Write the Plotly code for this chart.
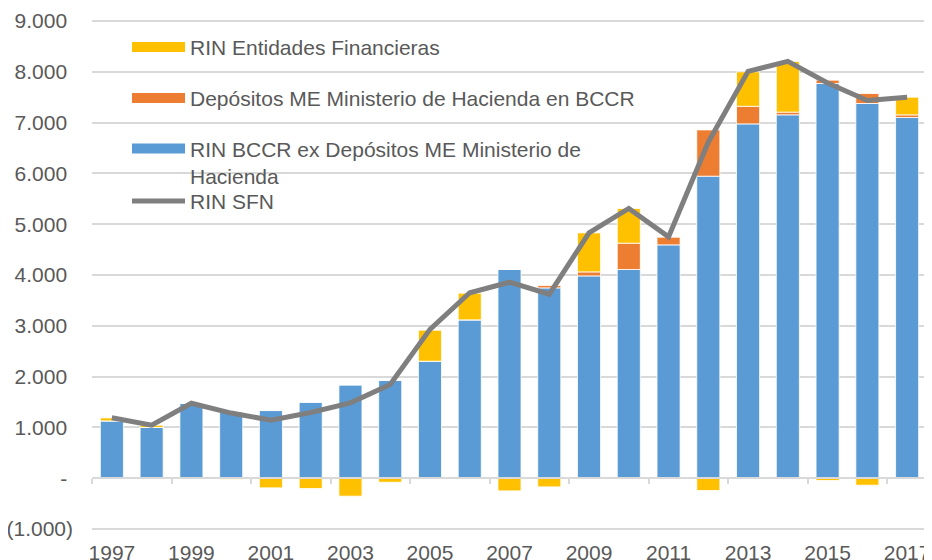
import plotly.graph_objects as go

years = list(range(1997, 2018))
rin_bccr_ex = [1128, 998, 1476, 1305, 1332, 1496, 1837, 1923, 2303, 3117, 4108,
               3746, 3982, 4108, 4593, 5945, 6974, 7153, 7769, 7376, 7100]
depositos_me = [0, 0, 0, 0, 0, 0, 0, 0, 0, 0, 0,
                47, 79, 518, 157, 911, 347, 53, 66, 196, 52]
rin_entidades = [59, 45, 0, -25, -190, -203, -354, -80, 610, 525, -250,
                 -171, 768, 683, 0, -242, 679, 997, -45, -138, 348]
rin_sfn = [1190, 1045, 1476, 1282, 1142, 1293, 1483, 1843, 2930, 3650, 3858,
           3622, 4829, 5310, 4750, 6614, 8010, 8205, 7780, 7434, 7500]

NBSP = "\u00a0"
y_tickvals = [-1000, 0, 1000, 2000, 3000, 4000, 5000, 6000, 7000, 8000, 9000]
y_ticktext = ["(1.000)", "-" + NBSP, "1.000" + NBSP, "2.000" + NBSP, "3.000" + NBSP,
              "4.000" + NBSP, "5.000" + NBSP, "6.000" + NBSP, "7.000" + NBSP,
              "8.000" + NBSP, "9.000" + NBSP]
x_tickvals = years[::2]
x_ticktext = [str(y) for y in x_tickvals]
boundary_ticks = [y - 0.5 for y in years[::2]] + [years[-1] + 0.5]

name_yellow = "RIN Entidades Financieras"
name_orange = "Depósitos ME Ministerio de Hacienda en BCCR"
name_blue = "RIN BCCR ex Depósitos ME Ministerio de<br>Hacienda"
name_line = "RIN SFN"

C_BLUE = "#5B9BD5"
C_ORANGE = "#ED7D31"
C_YELLOW = "#FFC000"
C_GREY = "#7F7F7F"
TXT = "#595959"
GRID = "#D9D9D9"
FONT = "Liberation Sans, Arial, sans-serif"

fig = go.Figure()
bar_line = dict(color="white", width=0.8)
fig.add_trace(go.Bar(x=years, y=rin_bccr_ex, marker=dict(color=C_BLUE, line=bar_line),
                     showlegend=False, name=name_blue))
fig.add_trace(go.Bar(x=years, y=depositos_me, marker=dict(color=C_ORANGE, line=bar_line),
                     showlegend=False, name=name_orange))
fig.add_trace(go.Bar(x=years, y=rin_entidades, marker=dict(color=C_YELLOW, line=bar_line),
                     showlegend=False, name=name_yellow))
fig.add_trace(go.Scatter(x=years, y=rin_sfn, mode="lines", line=dict(color=C_GREY, width=5),
                         showlegend=False, name=name_line))

# legend entries (wide swatches like the original)
legend_specs = [
    (name_yellow, C_YELLOW, 10, "legend"),
    (name_orange, C_ORANGE, 10, "legend2"),
    (name_blue, C_BLUE, 10, "legend3"),
    (name_line, C_GREY, 5, "legend4"),
]
for nm, col, w, lg in legend_specs:
    fig.add_trace(go.Scatter(x=[None], y=[None], mode="lines", name=nm,
                             line=dict(color=col, width=w), legend=lg, showlegend=True))

# zero axis with category-boundary ticks
fig.add_trace(go.Scatter(x=[None], y=[None], xaxis="x2", showlegend=False))

# page body has an 8px default margin; plot area placed accordingly
W, H = 932, 560
PAD = 3  # extra px so the end gridlines are not clipped
ML, MR, MT, MB = 84, 13, 12.6 - PAD, 39.2 - PAD
PW = W - ML - MR
PH = H - MT - MB
def px(p):
    return (p - ML) / PW
def py(p):
    return (H - MB - p) / PH

units_per_px = 10000 / (PH - 2 * PAD)
Y0, Y1 = -1000 - PAD * units_per_px, 9000 + PAD * units_per_px
zero_pos = (0 - Y0) / (Y1 - Y0)

lg_common = dict(bgcolor="rgba(0,0,0,0)", font=dict(family=FONT, size=21, color=TXT),
                 itemwidth=53, xanchor="left", yanchor="middle", valign="top")
fig.update_layout(
    template="none",
    width=W, height=H,
    margin=dict(l=ML, r=MR, t=MT, b=MB, autoexpand=False),
    paper_bgcolor="white", plot_bgcolor="white",
    barmode="relative", bargap=0.42,
    font=dict(family=FONT, size=21, color=TXT),
    xaxis=dict(range=[1996.5, 2017.5], tickvals=x_tickvals, ticktext=x_ticktext,
               showgrid=False, zeroline=False, showline=False, ticks="",
               ticklabelstandoff=9 - PAD, automargin=False),
    xaxis2=dict(range=[1996.5, 2017.5], overlaying="x", anchor="free", position=zero_pos,
                side="bottom", showline=True, linecolor=GRID, linewidth=1.5,
                ticks="outside", ticklen=5, tickcolor=GRID, tickwidth=1.5,
                tickvals=boundary_ticks, showticklabels=False, showgrid=False,
                zeroline=False, automargin=False),
    yaxis=dict(range=[Y0, Y1], tickvals=y_tickvals, ticktext=y_ticktext,
               showgrid=True, gridcolor=GRID, gridwidth=1.5, zeroline=False,
               showline=False, ticks="", ticklabelstandoff=18, automargin=False),
    legend=dict(x=px(119), y=py(39), **lg_common),
    legend2=dict(x=px(119), y=py(90), **lg_common),
    legend3=dict(x=px(119), y=py(154), **lg_common),
    legend4=dict(x=px(119), y=py(193), **lg_common),
)

fig.write_html("out.html")
